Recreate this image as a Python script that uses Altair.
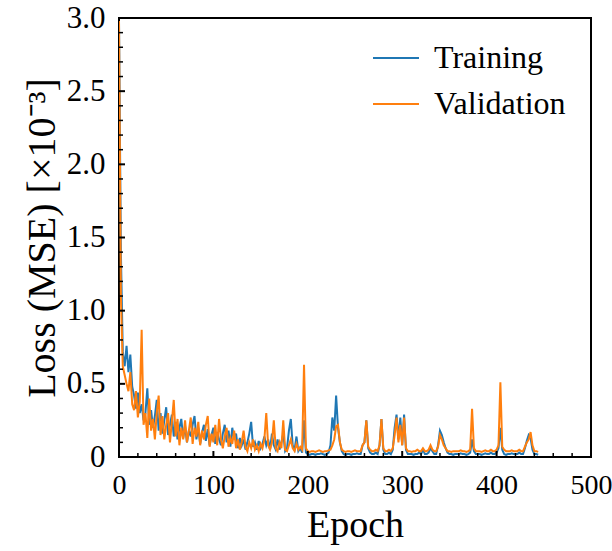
import altair as alt
import pandas as pd

# ---- data ----
epochs = list(range(0, 446, 2))

training = [
    2.98, 1.40, 0.72, 0.62, 0.76, 0.58, 0.70, 0.48, 0.42, 0.33,
    0.44, 0.30, 0.36, 0.25, 0.30, 0.47, 0.22, 0.32, 0.20, 0.28,
    0.39, 0.18, 0.30, 0.16, 0.25, 0.34, 0.15, 0.22, 0.29, 0.14,
    0.24, 0.12, 0.20, 0.26, 0.13, 0.21, 0.10, 0.18, 0.14, 0.22,
    0.28, 0.12, 0.20, 0.09, 0.17, 0.22, 0.11, 0.19, 0.08, 0.15,
    0.20, 0.09, 0.17, 0.12, 0.08, 0.16, 0.22, 0.10, 0.18, 0.07,
    0.20, 0.12, 0.16, 0.06, 0.13, 0.08, 0.12, 0.05, 0.10, 0.16,
    0.24, 0.07, 0.10, 0.05, 0.11, 0.06, 0.09, 0.14, 0.08, 0.12,
    0.05, 0.16, 0.08, 0.05, 0.12, 0.05, 0.10, 0.16, 0.04, 0.06,
    0.18, 0.26, 0.08, 0.05, 0.14, 0.04, 0.06, 0.03, 0.25, 0.03,
    0.02, 0.015, 0.02, 0.02, 0.015, 0.02, 0.02, 0.025, 0.02, 0.015,
    0.02, 0.03, 0.08, 0.27, 0.18, 0.42, 0.20, 0.10, 0.04, 0.02,
    0.015, 0.02, 0.02, 0.015, 0.02, 0.02, 0.025, 0.02, 0.02, 0.08,
    0.10, 0.25, 0.06, 0.03, 0.02, 0.02, 0.03, 0.02, 0.08, 0.26,
    0.05, 0.02, 0.02, 0.03, 0.02, 0.05, 0.20, 0.29, 0.12, 0.27,
    0.08, 0.29, 0.05, 0.02, 0.02, 0.02, 0.015, 0.02, 0.02, 0.03,
    0.02, 0.05, 0.02, 0.02, 0.03, 0.06, 0.04, 0.02, 0.02, 0.08,
    0.18, 0.15, 0.10, 0.06, 0.03, 0.02, 0.02, 0.015, 0.02, 0.02,
    0.02, 0.025, 0.02, 0.02, 0.015, 0.02, 0.03, 0.12, 0.04, 0.02,
    0.02, 0.02, 0.015, 0.02, 0.025, 0.02, 0.02, 0.03, 0.02, 0.02,
    0.03, 0.06, 0.20, 0.05, 0.02, 0.015, 0.02, 0.02, 0.025, 0.02,
    0.02, 0.02, 0.03, 0.02, 0.02, 0.06, 0.11, 0.15, 0.13, 0.05,
    0.02, 0.02, 0.015,
]

validation = [
    2.98, 1.10, 0.62, 0.56, 0.50, 0.45, 0.58, 0.36, 0.32, 0.45,
    0.27, 0.38, 0.87, 0.22, 0.30, 0.13, 0.40, 0.18, 0.26, 0.12,
    0.30, 0.42, 0.15, 0.28, 0.12, 0.22, 0.30, 0.10, 0.24, 0.39,
    0.14, 0.26, 0.08, 0.20, 0.12, 0.25, 0.10, 0.18, 0.27, 0.09,
    0.20, 0.14, 0.24, 0.08, 0.18, 0.12, 0.22, 0.28, 0.07, 0.16,
    0.10, 0.22, 0.08, 0.26, 0.12, 0.06, 0.14, 0.20, 0.07, 0.13,
    0.09, 0.18, 0.06, 0.12, 0.05, 0.10, 0.18, 0.07, 0.04, 0.10,
    0.06, 0.12, 0.05, 0.08, 0.04, 0.09, 0.06, 0.12, 0.30, 0.08,
    0.05, 0.10, 0.25, 0.06, 0.04, 0.10, 0.06, 0.25, 0.05, 0.04,
    0.08, 0.12, 0.06, 0.04, 0.09, 0.05, 0.07, 0.05, 0.63, 0.06,
    0.04, 0.035, 0.04, 0.04, 0.035, 0.04, 0.045, 0.04, 0.035, 0.04,
    0.04, 0.045, 0.05, 0.08, 0.12, 0.21, 0.22, 0.10, 0.05, 0.04,
    0.035, 0.04, 0.04, 0.035, 0.04, 0.045, 0.04, 0.04, 0.04, 0.08,
    0.10, 0.25, 0.07, 0.05, 0.04, 0.04, 0.05, 0.04, 0.08, 0.26,
    0.06, 0.04, 0.04, 0.05, 0.04, 0.06, 0.15, 0.27, 0.10, 0.22,
    0.08, 0.27, 0.06, 0.04, 0.04, 0.035, 0.04, 0.04, 0.05, 0.04,
    0.04, 0.06, 0.04, 0.04, 0.05, 0.08, 0.05, 0.04, 0.04, 0.07,
    0.15, 0.12, 0.08, 0.06, 0.04, 0.04, 0.035, 0.04, 0.04, 0.04,
    0.04, 0.045, 0.04, 0.04, 0.035, 0.04, 0.05, 0.33, 0.06, 0.04,
    0.04, 0.04, 0.035, 0.04, 0.045, 0.04, 0.04, 0.05, 0.04, 0.04,
    0.05, 0.08, 0.51, 0.07, 0.05, 0.04, 0.04, 0.04, 0.045, 0.04,
    0.04, 0.04, 0.05, 0.04, 0.04, 0.07, 0.10, 0.12, 0.17, 0.08,
    0.04, 0.04, 0.035,
]

series_names = ["Training", "Validation"]
series_colors = ["#1f77b4", "#ff7f0e"]

x_major = [0, 100, 200, 300, 400, 500]
x_minor = [v for v in range(20, 500, 20) if v % 100 != 0]
y_major = [0.0, 0.5, 1.0, 1.5, 2.0, 2.5, 3.0]
y_minor = [round(i / 10, 1) for i in range(1, 30) if i % 5 != 0]

# ---- build tables ----
df = pd.DataFrame({
    "Epoch": epochs * 2,
    "Loss": training + validation,
    "Series": [series_names[0]] * len(epochs) + [series_names[1]] * len(epochs),
})

W, H = 472, 439
FONT = "Liberation Serif"

xscale = alt.Scale(domain=[0, 500], nice=False, zero=False)
yscale = alt.Scale(domain=[0, 3], nice=False)

x_axis = alt.Axis(values=x_major, title="Epoch", ticks=False, domain=False,
                  grid=False, labelFlush=False, labelPadding=14,
                  labelFont=FONT, labelFontSize=28, labelColor="black",
                  titleFont=FONT, titleFontSize=38, titleFontWeight="normal",
                  titleColor="black", titlePadding=7, labelOverlap=False)
y_axis = alt.Axis(values=y_major, title="Loss (MSE) [×10⁻³]", ticks=False,
                  domain=False, grid=False, labelPadding=14,
                  labelExpr="datum.value == 0 ? '0' : format(datum.value, '.1f')",
                  labelFont=FONT, labelFontSize=31, labelColor="black",
                  titleFont=FONT, titleFontSize=40, titleFontWeight="normal",
                  titleColor="black", titlePadding=4, labelOverlap=False)

lines = alt.Chart(df).mark_line(strokeWidth=2, clip=True).encode(
    x=alt.X("Epoch:Q", scale=xscale, axis=x_axis),
    y=alt.Y("Loss:Q", scale=yscale, axis=y_axis),
    color=alt.Color("Series:N",
                    scale=alt.Scale(domain=series_names, range=series_colors),
                    legend=alt.Legend(orient="none", legendX=253, legendY=16, title=None,
                                      symbolType="stroke", symbolSize=2116,
                                      symbolStrokeWidth=2, labelFont=FONT,
                                      labelFontSize=32, labelColor="black",
                                      labelOffset=14, rowPadding=6)),
)

xt_major = alt.Chart(pd.DataFrame({"v": x_major})).mark_rule(color="black", strokeWidth=2).encode(
    x=alt.X("v:Q", scale=xscale, axis=x_axis), y=alt.value(H), y2=alt.value(H - 6))
xt_minor = alt.Chart(pd.DataFrame({"v": x_minor})).mark_rule(color="black", strokeWidth=1.5).encode(
    x=alt.X("v:Q", scale=xscale, axis=x_axis), y=alt.value(H), y2=alt.value(H - 4))
yt_major = alt.Chart(pd.DataFrame({"v": y_major})).mark_rule(color="black", strokeWidth=2).encode(
    y=alt.Y("v:Q", scale=yscale, axis=y_axis), x=alt.value(0), x2=alt.value(6))
yt_minor = alt.Chart(pd.DataFrame({"v": y_minor})).mark_rule(color="black", strokeWidth=1.5).encode(
    y=alt.Y("v:Q", scale=yscale, axis=y_axis), x=alt.value(0), x2=alt.value(4))

chart = alt.layer(lines, xt_major, xt_minor, yt_major, yt_minor).properties(
    width=W, height=H,
    autosize=alt.AutoSizeParams(type="none"),
    padding={"left": 119, "top": 18, "right": 21, "bottom": 94},
    background="white",
).configure_view(stroke="black", strokeWidth=2)

chart.save("out.html", embed_options={"renderer": "svg", "actions": False})
